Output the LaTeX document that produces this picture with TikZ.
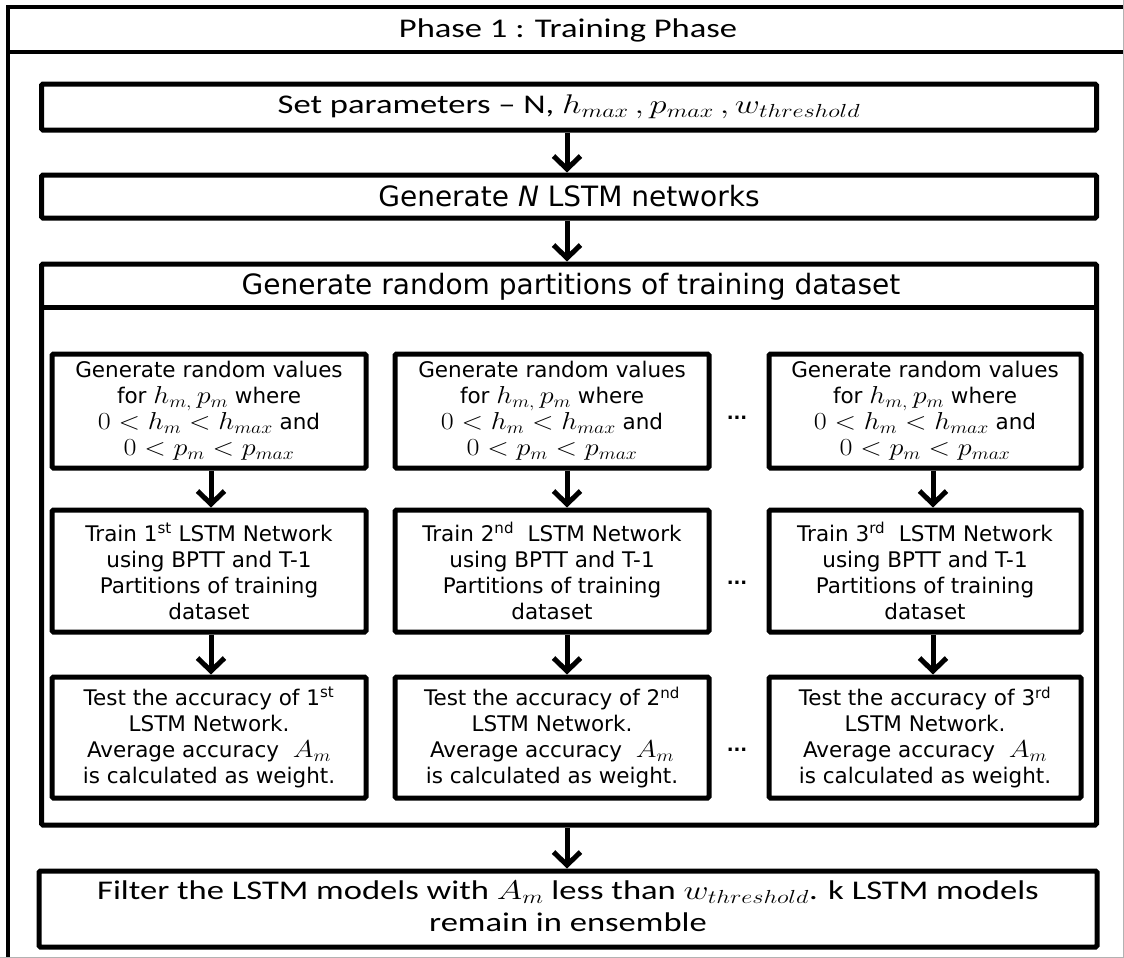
\RequirePackage{fix-cm}
\documentclass[tikz,border=0pt]{standalone}
\usepackage{graphicx}
\usepackage{fontspec}
\setmainfont{Carlito}
\newfontfamily\vfont{DejaVu Sans}
\usetikzlibrary{arrows.meta}
% Calibri-like captions are set slightly widened
\newcommand{\widetext}[1]{\scalebox{1.28}[1]{#1}}
% formulas inside the column boxes are set larger and wider than the surrounding text
\newcommand{\mth}[1]{\scalebox{1.15}[1]{\fontsize{24.5}{26}\selectfont$#1$}}

\begin{document}
\begin{tikzpicture}[x=1pt,y=-1pt,
  frame/.style={line width=4.5pt},
  box/.style={draw, line width=5pt, rounded corners=1.5pt, inner sep=0pt, align=center},
  calbox/.style={box, font=\fontsize{27}{32}\selectfont},
  colbox/.style={box, minimum width=314pt, font=\vfont\fontsize{21.5}{26}\selectfont},
  flow/.style={line width=5pt, -{Straight Barb[length=13pt,width=27pt]}},
  dots/.style={font=\vfont\bfseries\fontsize{18}{20}\selectfont, inner sep=0pt}
  ]
\useasboundingbox (0,0) rectangle (1124,958);
\clip (0,0) rectangle (1124,958);

% outer frame with title bar
\draw[frame] (8,7) rectangle (1150,990);
\draw[frame] (8,52) -- (1150,52);
\node[font=\fontsize{27}{32}\selectfont] (title) at (568,30) {\widetext{Phase 1 : Training Phase}};
\draw[gray!60, line width=1pt] (1123.5,0) -- (1123.5,958);
\draw[gray!60, line width=1pt] (0,957.5) -- (1124,957.5);

% top-level steps
\node[calbox, minimum width=1055pt, minimum height=46pt] (params) at (569,107)
  {\widetext{Set parameters -- N, $h_{max}\,,p_{max}\,,w_{threshold}$}};
\node[box, minimum width=1055pt, minimum height=43pt, font=\vfont\fontsize{28}{32}\selectfont] (gen) at (569,196.5)
  {Generate \textit{N} LSTM networks};

% partition container
\node[box, minimum width=1055pt, minimum height=561pt] (part) at (569,544.5) {};
\draw[line width=5pt] ([yshift=-46pt]part.north west) -- ([yshift=-46pt]part.north east);
\node[font=\vfont\fontsize{28}{32}\selectfont] (parthead) at (571,287)
  {Generate random partitions of training dataset};

% column 1
\node[colbox, minimum height=114pt] (g1) at (209,411)
  {Generate random values\\ for \mth{h_{m,}\,p_m} where\\ \mth{0 < h_m < h_{max}} and\\ \mth{0 < p_m < p_{max}}};
\node[colbox, minimum height=122pt] (t1) at (209,571)
  {Train 1\textsuperscript{st}\ LSTM Network\\ using BPTT and T-1\\ Partitions of training\\ dataset};
\node[colbox, minimum height=121pt] (a1) at (209,737.5)
  {Test the accuracy of 1\textsuperscript{st}\\ LSTM Network.\\ Average accuracy\ \ \mth{A_m}\\ is calculated as weight.};

% column 2
\node[colbox, minimum height=114pt] (g2) at (552,411)
  {Generate random values\\ for \mth{h_{m,}\,p_m} where\\ \mth{0 < h_m < h_{max}} and\\ \mth{0 < p_m < p_{max}}};
\node[colbox, minimum height=122pt] (t2) at (552,571)
  {Train 2\textsuperscript{nd}\ \ LSTM Network\\ using BPTT and T-1\\ Partitions of training\\ dataset};
\node[colbox, minimum height=121pt] (a2) at (552,737.5)
  {Test the accuracy of 2\textsuperscript{nd}\\ LSTM Network.\\ Average accuracy\ \ \mth{A_m}\\ is calculated as weight.};

% column 3
\node[colbox, minimum width=312pt, minimum height=114pt] (g3) at (925,411)
  {Generate random values\\ for \mth{h_{m,}\,p_m} where\\ \mth{0 < h_m < h_{max}} and\\ \mth{0 < p_m < p_{max}}};
\node[colbox, minimum width=312pt, minimum height=122pt] (t3) at (925,571)
  {Train 3\textsuperscript{rd}\ \ LSTM Network\\ using BPTT and T-1\\ Partitions of training\\ dataset};
\node[colbox, minimum width=312pt, minimum height=121pt] (a3) at (925,737.5)
  {Test the accuracy of 3\textsuperscript{rd}\\ LSTM Network.\\ Average accuracy\ \ \mth{A_m}\\ is calculated as weight.};

% ellipses between columns 2 and 3
\node[dots] (d1) at (737,418) {...};
\node[dots] (d2) at (737,583) {...};
\node[dots] (d3) at (737,750) {...};

% final filtering step
\node[calbox, minimum width=1058pt, minimum height=76pt] (final) at (568,909)
  {\widetext{\begin{tabular}{@{}c@{}}Filter the LSTM models with $A_m$ less than $w_{threshold}$. k LSTM models\\ remain in ensemble\end{tabular}}};

% connectors
\draw[flow] ([xshift=-2pt]params.south) -- ([xshift=-2pt]gen.north);
\draw[flow] ([xshift=-2pt]gen.south) -- ([xshift=-2pt]part.north);
\draw[flow] ([xshift=-2pt]part.south) -- ([xshift=-1pt]final.north);
\draw[flow] ([xshift=2pt]g1.south) -- ([xshift=2pt]t1.north);
\draw[flow] ([xshift=2pt]t1.south) -- ([xshift=2pt]a1.north);
\draw[flow] ([xshift=15pt]g2.south) -- ([xshift=15pt]t2.north);
\draw[flow] ([xshift=15pt]t2.south) -- ([xshift=15pt]a2.north);
\draw[flow] ([xshift=8pt]g3.south) -- ([xshift=8pt]t3.north);
\draw[flow] ([xshift=8pt]t3.south) -- ([xshift=8pt]a3.north);
\end{tikzpicture}
\end{document}
